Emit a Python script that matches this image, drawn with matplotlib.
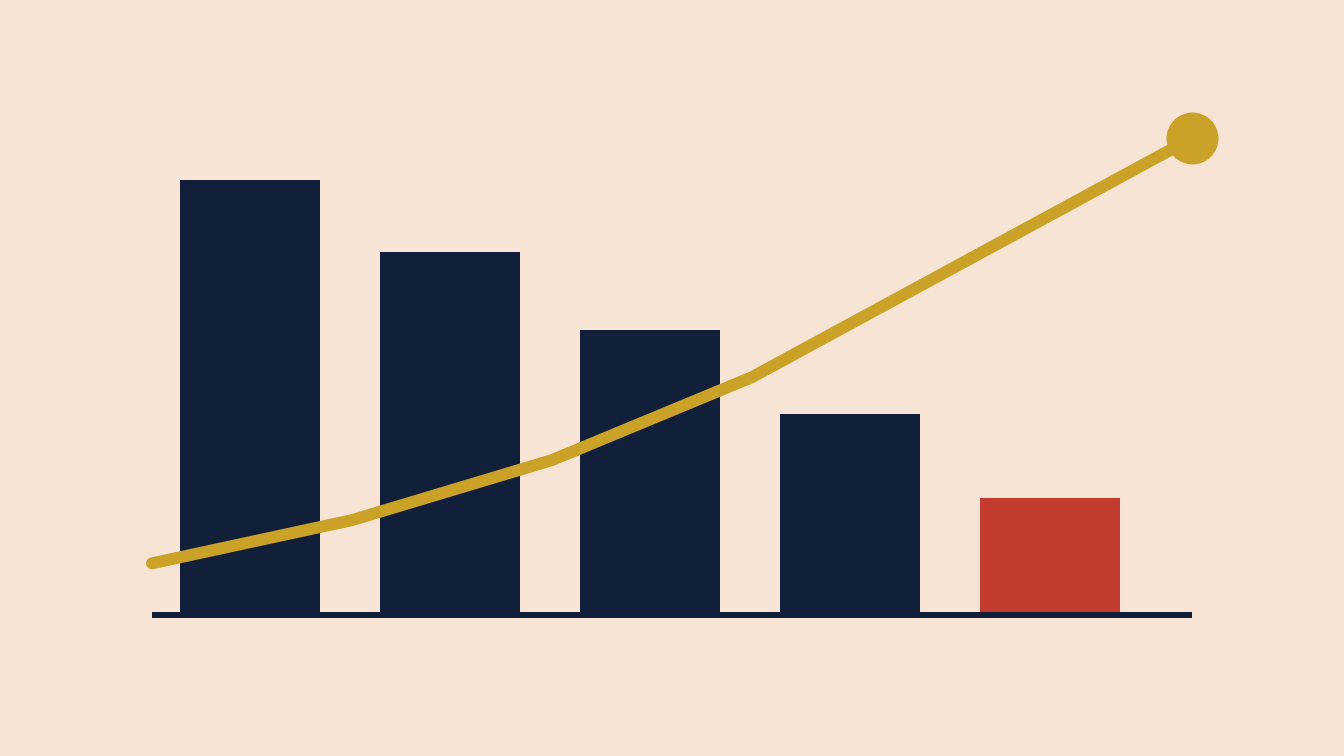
import numpy as np
import matplotlib
matplotlib.use('Agg')
import matplotlib.pyplot as plt

# bar values (baseline = 0)
categories = ['A', 'B', 'C', 'D', 'E']
bar_values = [100, 83.3, 65.3, 45.8, 26.4]
bar_colors = ['#111f38', '#111f38', '#111f38', '#111f38', '#c23b2e']

# trend line
line_x = [-0.49, 0.51, 1.51, 2.51, 4.71]
line_y = [11.3, 21.3, 35.2, 54.4, 109.7]

bg = '#f8e4d4'
gold = '#c9a227'
navy = '#111f38'

fig = plt.figure(figsize=(13.44, 7.56), dpi=100, facecolor=bg)
ax = fig.add_axes([0, 0, 1, 1])
ax.set_facecolor(bg)

x = np.arange(len(categories))

# baseline
ax.plot([-0.49, 4.71], [-0.69, -0.69], color=navy, lw=4.32,
        solid_capstyle='butt', zorder=1)

ax.bar(x, bar_values, width=0.7, color=bar_colors, zorder=2)

ax.plot(line_x, line_y, color=gold, lw=8.6, solid_capstyle='round',
        solid_joinstyle='miter', zorder=3)
ax.plot(line_x[-1], line_y[-1], 'o', color=gold, markersize=37.4,
        markeredgewidth=0, zorder=4)

ax.set_xlim(-1.25, 5.47)
ax.set_ylim(-33.3, 141.7)
ax.axis('off')

fig.savefig('out.png', dpi=100, facecolor=bg)
